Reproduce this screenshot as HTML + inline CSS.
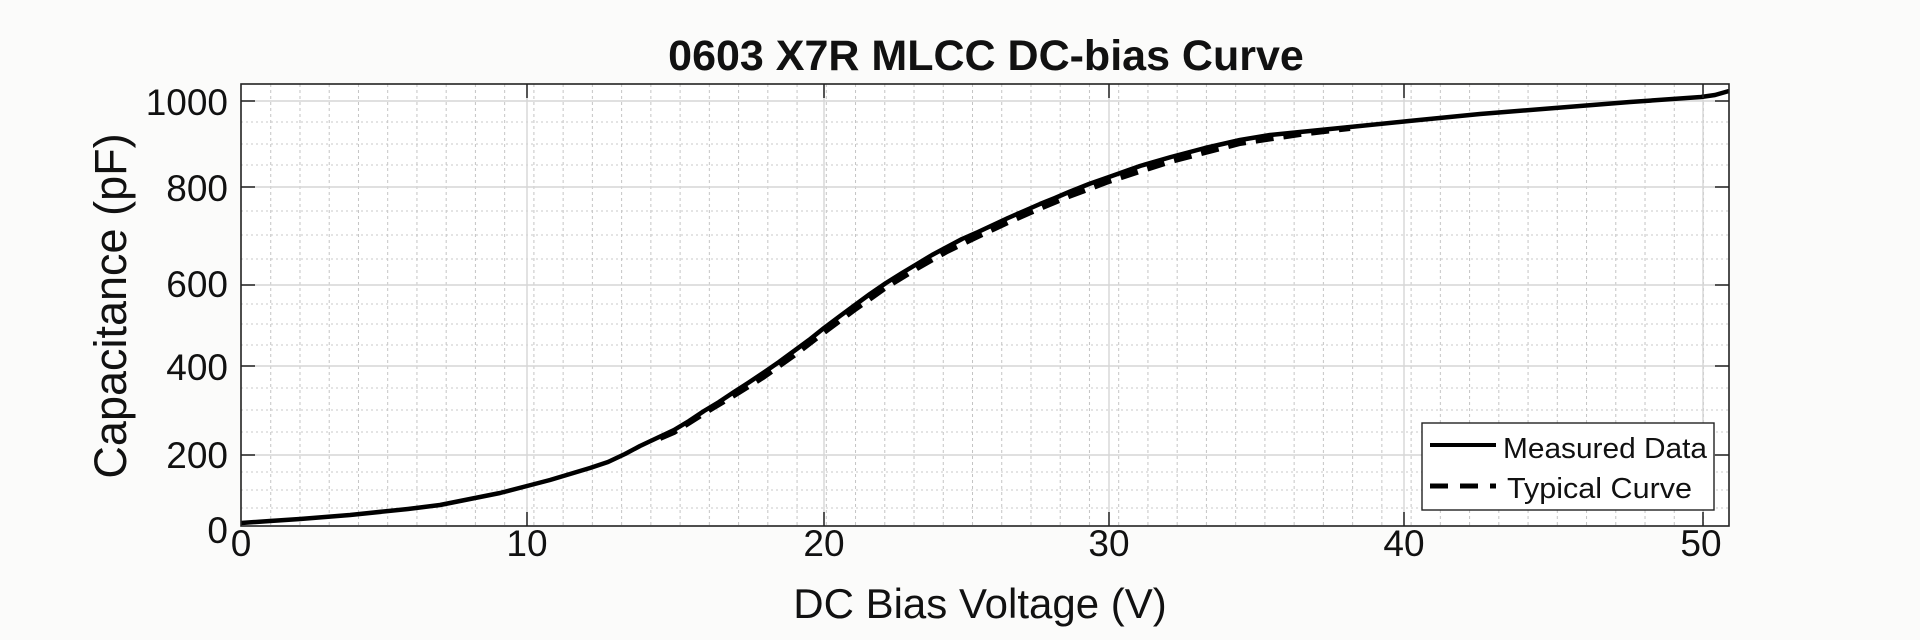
<!DOCTYPE html>
<html><head><meta charset="utf-8"><style>
html,body{margin:0;padding:0;background:#fbfbfa;}
svg{display:block}
text{font-family:"Liberation Sans",Arial,sans-serif;fill:#111}
</style></head><body>
<svg width="1920" height="640" viewBox="0 0 1920 640" xmlns="http://www.w3.org/2000/svg">
<defs>
<pattern id="vx" x="241" y="84" width="29.24" height="6" patternUnits="userSpaceOnUse">
<rect x="0" y="0" width="1" height="3" fill="#c4c4c4"/>
</pattern>
</defs>
<rect x="0" y="0" width="1920" height="640" fill="#fbfbfa"/>
<rect x="241" y="84" width="1488" height="442" fill="#ffffff"/>
<rect x="242" y="84" width="1487" height="442" fill="url(#vx)"/>
<g stroke="#c8c8c8" stroke-width="1" stroke-dasharray="2,3">
<line x1="241" y1="508" x2="1729" y2="508"/><line x1="241" y1="490" x2="1729" y2="490"/><line x1="241" y1="472" x2="1729" y2="472"/>
<line x1="241" y1="432" x2="1729" y2="432"/><line x1="241" y1="410" x2="1729" y2="410"/><line x1="241" y1="388" x2="1729" y2="388"/>
<line x1="241" y1="345" x2="1729" y2="345"/><line x1="241" y1="324" x2="1729" y2="324"/><line x1="241" y1="304" x2="1729" y2="304"/>
<line x1="241" y1="259" x2="1729" y2="259"/><line x1="241" y1="235" x2="1729" y2="235"/><line x1="241" y1="211" x2="1729" y2="211"/>
<line x1="241" y1="165" x2="1729" y2="165"/><line x1="241" y1="144" x2="1729" y2="144"/><line x1="241" y1="122" x2="1729" y2="122"/>
</g>
<g stroke="#d6d6d6" stroke-width="1.4">
<line x1="527" y1="84" x2="527" y2="526"/><line x1="824" y1="84" x2="824" y2="526"/><line x1="1109" y1="84" x2="1109" y2="526"/><line x1="1404" y1="84" x2="1404" y2="526"/><line x1="1703" y1="84" x2="1703" y2="526"/>
<line x1="241" y1="455" x2="1729" y2="455"/><line x1="241" y1="366" x2="1729" y2="366"/><line x1="241" y1="285" x2="1729" y2="285"/><line x1="241" y1="187" x2="1729" y2="187"/><line x1="241" y1="101" x2="1729" y2="101"/>
</g>
<polyline fill="none" stroke="#000" stroke-width="6" stroke-dasharray="18,10" points="660,438 674,432 704,413 734,395 763,377 794,355 824,332 855,309 886,287 917,268 947,251 978,236 1008,222 1040,208 1069,196 1109,181 1171,161 1240,143 1300,134 1350,128"/>
<polyline fill="none" stroke="#000" stroke-width="4.5" stroke-linejoin="round" points="241,523 270,521 300,519 350,515 408,509 440,505 470,499 500,493 527,486 550,480 570,474 590,468 608,462 625,454 640,446 657,438 674,430 689,421 704,411 719,402 734,392 748,383 763,373 779,362 794,351 809,340 824,328 840,316 855,305 870,294 886,283 902,273 917,264 932,255 947,247 962,239 978,232 993,225 1008,218 1024,211 1040,204 1055,198 1069,192 1089,184 1109,177 1140,166 1171,157 1205,148 1240,140 1270,135 1300,132 1350,127 1409,121 1480,114 1555,108 1630,102 1701,97 1715,95 1729,91"/>
<rect x="241" y="84" width="1488" height="442" fill="none" stroke="#222" stroke-width="1.6"/>
<g stroke="#222" stroke-width="1.5">
<line x1="527" y1="526" x2="527" y2="512"/><line x1="824" y1="526" x2="824" y2="512"/><line x1="1109" y1="526" x2="1109" y2="512"/><line x1="1404" y1="526" x2="1404" y2="512"/><line x1="1703" y1="526" x2="1703" y2="512"/>
<line x1="527" y1="84" x2="527" y2="98"/><line x1="824" y1="84" x2="824" y2="98"/><line x1="1109" y1="84" x2="1109" y2="98"/><line x1="1404" y1="84" x2="1404" y2="98"/><line x1="1703" y1="84" x2="1703" y2="98"/>
<line x1="241" y1="455" x2="255" y2="455"/><line x1="241" y1="366" x2="255" y2="366"/><line x1="241" y1="285" x2="255" y2="285"/><line x1="241" y1="187" x2="255" y2="187"/><line x1="241" y1="101" x2="255" y2="101"/>
<line x1="1729" y1="455" x2="1715" y2="455"/><line x1="1729" y1="366" x2="1715" y2="366"/><line x1="1729" y1="285" x2="1715" y2="285"/><line x1="1729" y1="187" x2="1715" y2="187"/><line x1="1729" y1="101" x2="1715" y2="101"/>
</g>
<text x="986" y="70" font-size="43" font-weight="bold" text-anchor="middle">0603 X7R MLCC DC-bias Curve</text>
<text transform="translate(126,306) rotate(-90)" font-size="45" text-anchor="middle">Capacitance (pF)</text>
<text x="980" y="618" font-size="42" text-anchor="middle">DC Bias Voltage (V)</text>
<g font-size="37" text-anchor="end">
<text x="228" y="115">1000</text>
<text x="228" y="201">800</text>
<text x="228" y="297">600</text>
<text x="228" y="380">400</text>
<text x="228" y="468">200</text>
<text x="228" y="543">0</text>
</g>
<g font-size="37" text-anchor="middle">
<text x="241" y="556">0</text>
<text x="527" y="556">10</text>
<text x="824" y="556">20</text>
<text x="1109" y="556">30</text>
<text x="1404" y="556">40</text>
<text x="1701" y="556">50</text>
</g>
<rect x="1422" y="423" width="292" height="87" fill="#fff" stroke="#222" stroke-width="1.4"/>
<line x1="1430" y1="445" x2="1496" y2="445" stroke="#000" stroke-width="4"/>
<line x1="1430" y1="486" x2="1496" y2="486" stroke="#000" stroke-width="5" stroke-dasharray="18,12"/>
<text x="1503" y="458" font-size="29" textLength="204" lengthAdjust="spacingAndGlyphs">Measured Data</text>
<text x="1507" y="498" font-size="29" textLength="185" lengthAdjust="spacingAndGlyphs">Typical Curve</text>
</svg>
</body></html>
